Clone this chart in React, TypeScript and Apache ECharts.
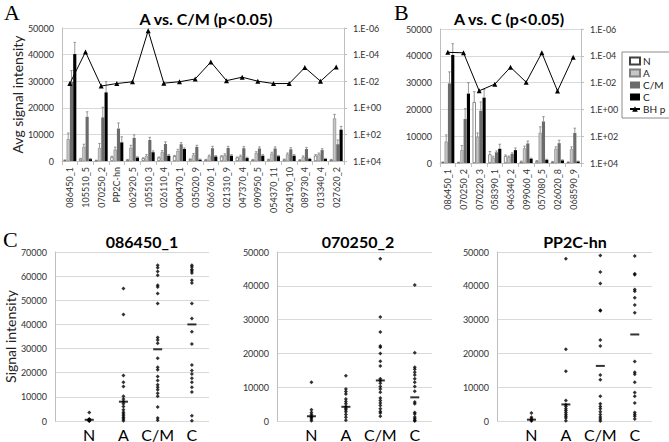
import React, { useEffect, useRef } from "react";
import * as echarts from "echarts";

// ---------- Panel A : A vs. C/M ----------
const catsA = ["086450_1","105510_5","070250_2","PP2C-hn","062920_5","105510_3","026110_4","000470_1","035020_9","066760_1","021310_9","047370_4","090950_5","054370_11","024190_10","089730_4","013340_4","027620_2"];
const aN = [300,800,200,1500,500,1000,1300,1800,700,500,1700,1300,500,600,600,400,2000,500];
const aA = [8200,5300,4900,4300,5000,1900,3300,3800,2300,1800,2200,1800,3000,2800,2500,1500,2500,16000];
const aCM = [29700,16600,16400,12200,8700,7900,6400,6300,5300,4800,4900,4800,4700,4700,4400,4500,4100,6300];
const aC = [40200,700,25800,7000,1300,3300,2000,4500,500,1700,2000,1100,2000,1800,2000,800,800,11800];
const aNerr = [100,200,100,300,100,200,200,300,100,100,300,200,100,100,100,100,400,100];
const aAerr = [2300,1000,1700,900,900,500,600,600,500,400,500,400,500,500,500,400,500,1500];
const aCMerr = [4300,1900,3800,2100,1100,1000,800,600,600,700,600,600,600,600,600,600,500,1600];
const aCerr = [4400,200,4000,2100,300,500,400,400,200,300,400,300,400,300,400,200,200,1200];
const pA = [1.5e-2,6.3e-5,2.3e-2,1.5e-2,1.1e-2,1.6e-6,1.4e-2,1.1e-2,6.8e-3,3.6e-4,9.1e-3,5.0e-3,1.0e-2,1.5e-2,1.5e-2,9.5e-4,1.0e-2,8.5e-4];

// ---------- Panel B : A vs. C ----------
const catsB = ["086450_1","070250_2","070220_3","058390_1","046340_2","099060_4","057080_5","026020_8","068590_9"];
const bN = [300,200,22700,3200,2600,500,700,400,300];
const bA = [8000,4800,9800,2000,2200,5500,11300,5300,5200];
const bCM = [29700,16400,19500,4000,3400,7300,15500,7400,11200];
const bC = [40300,25900,24400,5300,4800,1600,1200,1000,600];
const bNerr = [100,100,3900,1100,400,200,200,200,100];
const bAerr = [2500,1700,1400,500,400,800,2200,700,800];
const bCMerr = [4300,3900,3300,500,400,900,1800,1100,1800];
const bCerr = [4200,4100,3000,1700,800,200,200,200,100];
const pB = [5.5e-5,6.0e-5,4.1e-2,1.3e-2,7.1e-4,9.3e-3,6.0e-5,4.2e-2,1.26e-4];

// ---------- Panel C : individual signal intensities ----------
const groupsC = ["N", "A", "C/M", "C"];
const c1N = [3500,800,500,300,200,100,0,400,600];
const c1A = [54900,44100,18800,16000,14300,10200,9100,8100,7100,6000,4700,3600,2900,2200,1500,800,100];
const c1CM = [64500,63500,61900,60400,56200,55500,52800,48700,34600,33500,32200,26000,22300,21200,18400,16800,15000,14000,12900,11500,10200,5800,1200,300];
const c1C = [64500,63800,62700,62100,61300,58300,57200,48700,42500,37000,31900,23200,20900,19500,17700,16000,14000,12000,2200,100];
const c1Mean = [500,8000,29700,40000];
const c2N = [11500,3300,2500,1900,1400,1000,600,100];
const c2A = [13400,9500,8700,8000,6500,5800,5100,4300,3800,3300,2700,1900,1100,200];
const c2CM = [48000,30800,26300,22200,21800,20000,17700,16300,12500,11900,11200,10200,9500,8500,6800,6100,5300,4600,3600,2800,2400,1400];
const c2C = [40200,20200,15900,15300,14400,13600,12500,11500,10200,8800,5600,5100,2500,2100,1200,700,200,0];
const c2Mean = [1400,4200,12000,7000];
const c3N = [2400,1100,600,300,0];
const c3A = [48000,21200,14700,6100,4800,4300,3600,3100,2500,1900,1400,900,100];
const c3CM = [49000,44100,40700,32800,32600,24000,22200,13600,12200,7300,5100,4300,3600,2700,1900,1200,600,0];
const c3C = [48800,43600,43300,38900,38400,36500,34300,32000,17600,14400,13800,11500,8400,7300,5300,2500,1900,1400,600];
const c3Mean = [400,4900,16300,25600];

const FONT = 'Lato, "Open Sans", sans-serif';
const BW = 0.2;
const GAP = 0.05;
const barColors = ["#ffffff", "#c6c6c6", "#6b6b6b", "#000000"];
const barBorders = ["#404040", "#808080", "#5a5a5a", "#000000"];
const groupNames = ["N", "A", "C/M", "C"];

function errRender(gi: number) {
  return (params: any, api: any) => {
    const cat = api.value(0);
    const val = api.value(1);
    const err = api.value(2);
    const base = api.coord([cat, val]);
    const top = api.coord([cat, val + err]);
    const band = api.size([1, 0])[0];
    const w = band * BW;
    const g = w * GAP;
    const total = 4 * w + 3 * g;
    const cx = base[0] - total / 2 + w / 2 + gi * (w + g);
    const cap = w * 0.8;
    const st = { stroke: "#808080", lineWidth: 0.8 };
    return {
      type: "group",
      children: [
        { type: "line", shape: { x1: cx, y1: base[1], x2: cx, y2: top[1] }, style: st },
        { type: "line", shape: { x1: cx - cap / 2, y1: top[1], x2: cx + cap / 2, y2: top[1] }, style: st },
      ],
    };
  };
}

function barPanel(xi: number, yl: number, yr: number, vals: number[][], errs: number[][], ps: number[]) {
  const s: any[] = [];
  vals.forEach((v, gi) => {
    s.push({
      type: "bar", name: groupNames[gi], xAxisIndex: xi, yAxisIndex: yl,
      barWidth: BW * 100 + "%", barGap: GAP * 100 + "%",
      itemStyle: { color: barColors[gi], borderColor: barBorders[gi], borderWidth: gi < 2 ? 0.6 : 0 },
      data: v,
    });
  });
  errs.forEach((e, gi) => {
    s.push({
      type: "custom", name: groupNames[gi] + " err", xAxisIndex: xi, yAxisIndex: yl, z: 3,
      renderItem: errRender(gi),
      data: e.map((x, i) => [i, vals[gi][i], x]),
    });
  });
  s.push({
    type: "line", name: "BH p", xAxisIndex: xi, yAxisIndex: yr, z: 4,
    symbol: "triangle", symbolSize: 5,
    lineStyle: { color: "#000", width: 1 }, itemStyle: { color: "#000" },
    data: ps.map((p) => Math.log10(p)),
  });
  return s;
}

function scatterPanel(xi: number, yi: number, groups: number[][], means: number[]) {
  const s: any[] = [];
  groups.forEach((g, gi) => {
    s.push({
      type: "scatter", name: "P" + xi + " " + groupsC[gi], xAxisIndex: xi, yAxisIndex: yi,
      symbol: "diamond", symbolSize: 4, itemStyle: { color: "#000" },
      data: g.map((v) => [gi + 1, v]),
    });
  });
  s.push({
    type: "scatter", name: "P" + xi + " mean", xAxisIndex: xi, yAxisIndex: yi,
    symbol: "rect", symbolSize: [9, 2], itemStyle: { color: "#000" }, z: 5,
    data: means.map((v, i) => [i + 1, v]),
  });
  return s;
}

const expFmt = (v: number) => {
  const e = Math.round(v);
  return "1.E" + (e < 0 ? "-" : "+") + String(Math.abs(e)).padStart(2, "0");
};
const plainFmt = (v: number) => String(v);

const gridLine = { show: true, lineStyle: { color: "#d9d9d9", width: 1 } };
const axLine = { show: true, lineStyle: { color: "#bfbfbf" } };
const tickLbl = { fontFamily: FONT, fontSize: 9, color: "#333" };

export default function App() {
  const ref = useRef<HTMLDivElement>(null);
  useEffect(() => {
    if (!ref.current) return;
    const chart = echarts.init(ref.current, undefined, { renderer: "svg" });
    const catAxis = (gridIndex: number, data: string[]) => ({
      type: "category", gridIndex, data,
      axisLine: axLine, axisTick: { show: true, length: 4, lineStyle: { color: "#bfbfbf" } },
      axisLabel: { ...tickLbl, rotate: 90, interval: 0, margin: 6 },
    });
    const leftAxis = (gridIndex: number, name?: string) => ({
      type: "value", gridIndex, min: 0, max: 50000, interval: 10000,
      axisLine: axLine, axisTick: { show: false }, splitLine: gridLine,
      axisLabel: { ...tickLbl, margin: 8, formatter: plainFmt },
      name, nameLocation: "middle", nameGap: 34,
      nameTextStyle: { fontFamily: FONT, fontSize: 14, color: "#222" },
    });
    const rightAxis = (gridIndex: number) => ({
      type: "value", gridIndex, position: "right", min: -6, max: 4, interval: 2, inverse: true,
      axisLine: axLine, axisTick: { show: true, length: 3, lineStyle: { color: "#bfbfbf" } },
      splitLine: { show: false },
      axisLabel: { ...tickLbl, margin: 9, formatter: expFmt },
    });
    const cX = (gridIndex: number) => ({
      type: "value", gridIndex, min: 0, max: 4.5, interval: 1,
      axisLine: { show: false }, axisTick: { show: false }, splitLine: { show: false },
      axisLabel: {
        fontFamily: FONT, fontSize: 16, color: "#000", margin: 5, showMaxLabel: false,
        formatter: (v: number) => (Number.isInteger(v) && v >= 1 && v <= 4 ? groupsC[v - 1] : ""),
      },
    });
    const cY = (gridIndex: number, max: number, name?: string) => ({
      type: "value", gridIndex, min: 0, max, interval: 10000,
      axisLine: axLine, axisTick: { show: false }, splitLine: gridLine,
      axisLabel: { ...tickLbl, margin: 8, formatter: plainFmt },
      name, nameLocation: "middle", nameGap: 38,
      nameTextStyle: { fontFamily: FONT, fontSize: 14, color: "#222" },
    });
    const titleStyle = { fontFamily: FONT, fontSize: 16, fontWeight: "bold", color: "#000" };
    const serif = '"Liberation Serif", "DejaVu Serif", serif';
    const option: any = {
      animation: false,
      backgroundColor: "#fff",
      textStyle: { fontFamily: FONT },
      title: [
        { text: "A vs. C/M (p<0.05)", left: 201, top: 5, textAlign: "center", textStyle: titleStyle },
        { text: "A vs. C (p<0.05)", left: 504, top: 5, textAlign: "center", textStyle: titleStyle },
        { text: "086450_1", left: 137, top: 228, textAlign: "center", textStyle: titleStyle },
        { text: "070250_2", left: 353, top: 228, textAlign: "center", textStyle: titleStyle },
        { text: "PP2C-hn", left: 570, top: 228, textAlign: "center", textStyle: titleStyle },
      ],
      legend: {
        data: [
          { name: "N", icon: "rect" },
          { name: "A", icon: "rect" },
          { name: "C/M", icon: "rect" },
          { name: "C", icon: "rect" },
          { name: "BH p" },
        ],
        orient: "vertical", left: 622, top: 52,
        itemWidth: 10, itemHeight: 7, itemGap: 2,
        padding: [4, 5, 4, 7],
        borderColor: "#8c8c8c", borderWidth: 1,
        textStyle: { fontFamily: FONT, fontSize: 10, color: "#222", padding: [0, 0, 0, -2] },
        selectedMode: false,
      },
      graphic: [
        { type: "text", left: 4, top: 1, style: { text: "A", fontFamily: serif, fontSize: 22, fill: "#000" } },
        { type: "text", left: 394, top: 1, style: { text: "B", fontFamily: serif, fontSize: 22, fill: "#000" } },
        { type: "text", left: 3, top: 228, style: { text: "C", fontFamily: serif, fontSize: 22, fill: "#000" } },
      ],
      grid: [
        { left: 62, top: 28, width: 282, height: 133 },
        { left: 440, top: 29, width: 141, height: 134 },
        { left: 55, top: 252, width: 154, height: 169 },
        { left: 277, top: 252, width: 155, height: 169 },
        { left: 497, top: 252, width: 155, height: 169 },
      ],
      xAxis: [catAxis(0, catsA), catAxis(1, catsB), cX(2), cX(3), cX(4)],
      yAxis: [
        leftAxis(0, "Avg signal intensity"), rightAxis(0),
        leftAxis(1), rightAxis(1),
        cY(2, 70000, "Signal intensity"), cY(3, 50000), cY(4, 50000),
      ],
      series: [
        ...barPanel(0, 0, 1, [aN, aA, aCM, aC], [aNerr, aAerr, aCMerr, aCerr], pA),
        ...barPanel(1, 2, 3, [bN, bA, bCM, bC], [bNerr, bAerr, bCMerr, bCerr], pB),
        ...scatterPanel(2, 4, [c1N, c1A, c1CM, c1C], c1Mean),
        ...scatterPanel(3, 5, [c2N, c2A, c2CM, c2C], c2Mean),
        ...scatterPanel(4, 6, [c3N, c3A, c3CM, c3C], c3Mean),
      ],
    };
    chart.setOption(option);
    return () => chart.dispose();
  }, []);
  return (
    <div
      ref={ref}
      style={{ position: "fixed", left: 0, top: 0, width: 669, height: 442, background: "#fff" }}
    />
  );
}
